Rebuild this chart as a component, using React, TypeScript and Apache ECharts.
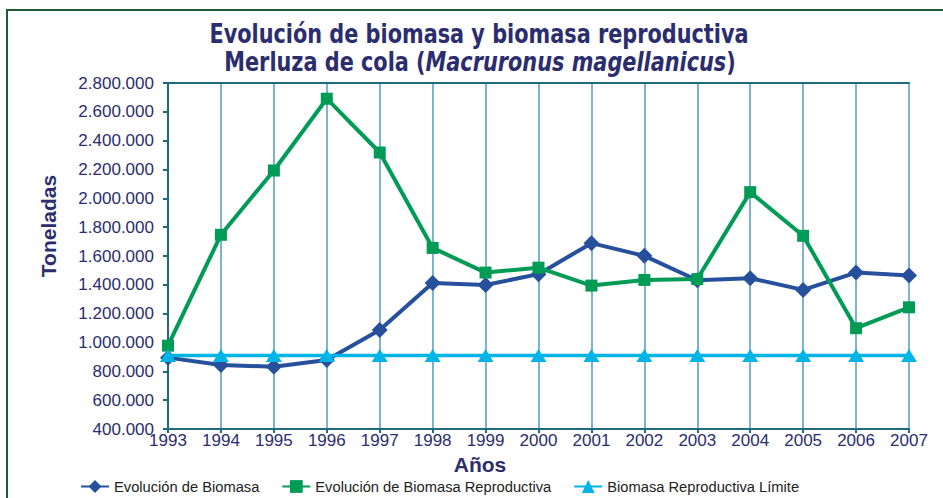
import React, { useEffect, useRef } from "react";
import * as echarts from "echarts";

const years = ["1993", "1994", "1995", "1996", "1997", "1998", "1999", "2000", "2001", "2002", "2003", "2004", "2005", "2006", "2007"];
const biomasa = [895000, 844000, 832000, 879000, 1087000, 1413000, 1399000, 1474000, 1689000, 1601000, 1432000, 1446000, 1365000, 1485000, 1464000];
const biomasaReproductiva = [978000, 1747000, 2193000, 2691000, 2318000, 1656000, 1485000, 1519000, 1395000, 1434000, 1440000, 2043000, 1740000, 1099000, 1244000];
const biomasaLimite = [910000, 910000, 910000, 910000, 910000, 910000, 910000, 910000, 910000, 910000, 910000, 910000, 910000, 910000, 910000];
const seriesNames = ["Evolución de Biomasa", "Evolución de Biomasa Reproductiva", "Biomasa Reproductiva Límite"];
const titleLine1 = "Evolución de biomasa y biomasa reproductiva";
const yAxisTitle = "Toneladas";
const xAxisTitle = "Años";

const NAVY = "#2b2d6e";
const AXIS = "#1d6b80";
const GRID = "#7db2d0";
const FONT = "Liberation Sans, Arial, sans-serif";
const TITLE_FONT = "Liberation Sans Narrow, DejaVu Sans Condensed, Liberation Sans, sans-serif";

const fmt = (v: number) => String(v).replace(/\B(?=(\d{3})+(?!\d))/g, ".");

export default function App() {
  const ref = useRef<HTMLDivElement>(null);
  useEffect(() => {
    if (!ref.current) return;
    const chart = echarts.init(ref.current, null, { renderer: "svg" });
    chart.setOption({
      animation: false,
      backgroundColor: "#ffffff",
      textStyle: { fontFamily: FONT },
      grid: { left: 168, right: 34, top: 83, bottom: 69 },
      graphic: [
        {
          type: "rect",
          shape: { x: 7, y: 10, width: 1000, height: 600 },
          style: { fill: "none", stroke: "#1f5a36", lineWidth: 2 },
          silent: true,
        },
        {
          type: "text",
          x: 479,
          y: 34,
          scaleX: 0.89,
          style: {
            text: titleLine1,
            fontFamily: TITLE_FONT,
            fontWeight: "bold",
            fontSize: 26,
            fill: NAVY,
            align: "center",
            verticalAlign: "middle",
          },
        },
        {
          type: "text",
          x: 480,
          y: 62,
          scaleX: 0.89,
          style: {
            text: "{n|Merluza de cola (}{i|Macruronus magellanicus}{n|)}",
            align: "center",
            verticalAlign: "middle",
            rich: {
              n: { fontFamily: TITLE_FONT, fontWeight: "bold", fontSize: 26, fill: NAVY },
              i: { fontFamily: TITLE_FONT, fontWeight: "bold", fontStyle: "italic", fontSize: 26, fill: NAVY },
            },
          },
        },
        {
          type: "text",
          x: 48,
          y: 226,
          rotation: Math.PI / 2,
          style: {
            text: yAxisTitle,
            fontFamily: FONT,
            fontWeight: "bold",
            fontSize: 21,
            fill: NAVY,
            align: "center",
            verticalAlign: "middle",
          },
        },
        {
          type: "text",
          x: 480,
          y: 464,
          style: {
            text: xAxisTitle,
            fontFamily: FONT,
            fontWeight: "bold",
            fontSize: 21,
            fill: NAVY,
            align: "center",
            verticalAlign: "middle",
          },
        },
      ],
      legend: {
        left: 75,
        top: 474,
        itemWidth: 28,
        itemHeight: 16,
        itemGap: 22,
        textStyle: { fontFamily: FONT, fontSize: 14.7, color: "#222" },
        data: seriesNames,
      },
      xAxis: [
        {
          type: "category",
          data: years,
          boundaryGap: false,
          axisLine: { lineStyle: { color: AXIS, width: 2 } },
          axisTick: { show: true, length: 4, lineStyle: { color: AXIS, width: 2 } },
          axisLabel: { color: NAVY, fontSize: 17, fontFamily: FONT, margin: 3 },
          splitLine: { show: true, lineStyle: { color: GRID, width: 2 } },
        },
        {
          type: "category",
          data: years,
          position: "top",
          boundaryGap: false,
          axisLine: { lineStyle: { color: AXIS, width: 2 } },
          axisTick: { show: false },
          axisLabel: { show: false },
          splitLine: { show: false },
        },
      ],
      yAxis: {
        type: "value",
        min: 400000,
        max: 2800000,
        interval: 200000,
        axisLine: { show: true, lineStyle: { color: AXIS, width: 2 } },
        axisTick: { show: true, length: 5, lineStyle: { color: AXIS, width: 2 } },
        axisLabel: { color: NAVY, fontSize: 17, fontFamily: FONT, margin: 14, formatter: (v: number) => fmt(v) },
        splitLine: { show: false },
      },
      series: [
        {
          name: seriesNames[0],
          type: "line",
          data: biomasa,
          symbol: "diamond",
          symbolSize: [16, 16],
          itemStyle: { color: "#27509c" },
          lineStyle: { color: "#27509c", width: 4 },
          z: 3,
        },
        {
          name: seriesNames[1],
          type: "line",
          data: biomasaReproductiva,
          symbol: "rect",
          symbolSize: [12, 12],
          itemStyle: { color: "#009b55" },
          lineStyle: { color: "#009b55", width: 4 },
          z: 4,
        },
        {
          name: seriesNames[2],
          type: "line",
          data: biomasaLimite,
          symbol: "triangle",
          symbolSize: [16, 13],
          itemStyle: { color: "#00b4e6" },
          lineStyle: { color: "#00b4e6", width: 3.5 },
          z: 5,
        },
      ],
    });
    return () => chart.dispose();
  }, []);
  return (
    <div
      ref={ref}
      style={{ position: "absolute", left: 0, top: 0, width: 943, height: 498 }}
    />
  );
}
